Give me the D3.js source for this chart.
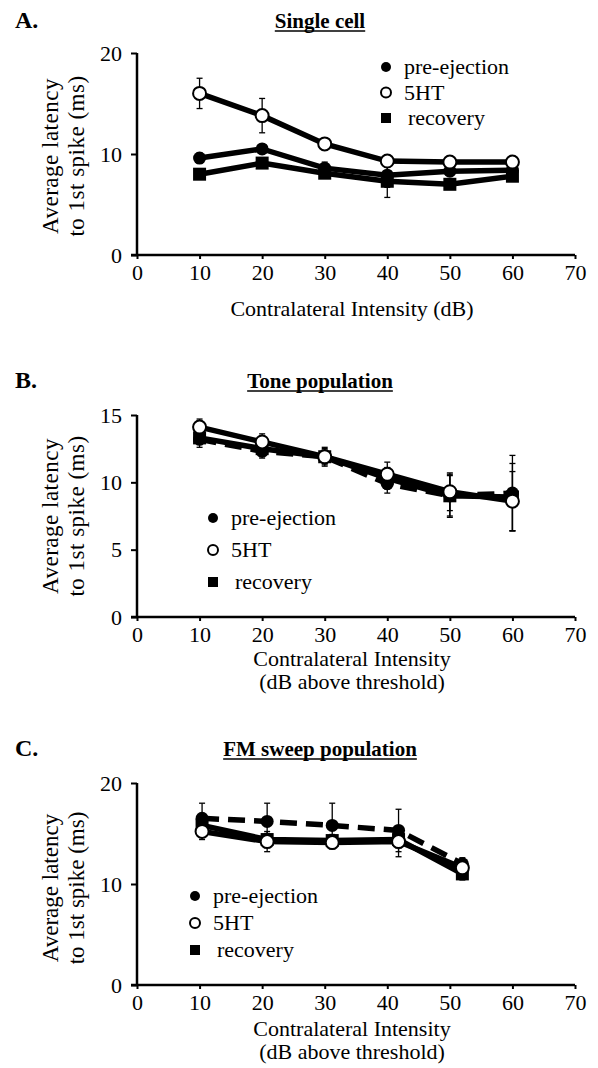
<!DOCTYPE html>
<html>
<head>
<meta charset="utf-8">
<script src="https://cdn.jsdelivr.net/npm/d3@7/dist/d3.min.js"></script>
<style>
  body { margin: 0; background: #fff; }
</style>
</head>
<body>
<script>
// figure size
var w = 598;
var h = 1068;
var serif = "'Liberation Serif', 'DejaVu Serif', serif";

// shared x axis
var xTicks = [0, 10, 20, 30, 40, 50, 60, 70];
var seriesNames = ["pre-ejection", "5HT", "recovery"];

// panel A - single cell
var aX = [10, 20, 30, 40, 50, 60];
var aPre = [9.6, 10.5, 8.6, 7.9, 8.3, 8.4];
var aPreErr = [0.5, 0.4, 0.6, 1.2, 0.3, 0.3];
var a5ht = [16.0, 13.8, 11.0, 9.3, 9.2, 9.2];
var a5htErr = [1.5, 1.7, 0.3, 0.3, 0.3, 0.3];
var aRec = [8.0, 9.1, 8.1, 7.3, 7.0, 7.8];
var aRecErr = [0.3, 0.5, 0.5, 1.6, 0.3, 0.3];
var aYTicks = [0, 10, 20];

// panel B - tone population
var bX = [10, 20, 30, 40, 50, 60];
var bPre = [13.2, 12.3, 11.9, 9.9, 9.0, 9.2];
var bPreErr = [0.6, 0.5, 0.6, 0.7, 1.6, 2.8];
var b5ht = [14.1, 13.0, 11.9, 10.6, 9.3, 8.6];
var b5htErr = [0.6, 0.6, 0.7, 0.9, 1.4, 2.2];
var bRec = [13.3, 12.5, 11.9, 10.3, 9.0, 8.9];
var bRecErr = [0.5, 0.5, 0.5, 0.8, 1.5, 2.5];
var bYTicks = [0, 5, 10, 15];

// panel C - FM sweep population
var cX = [10.4, 20.8, 31.2, 41.8, 52];
var cPre = [16.5, 16.2, 15.8, 15.3, 12.0];
var cPreErr = [1.5, 1.8, 2.2, 2.1, 0.6];
var c5ht = [15.2, 14.2, 14.1, 14.2, 11.6];
var c5htErr = [0.8, 1.0, 0.6, 1.5, 0.7];
var cRec = [15.8, 14.4, 14.3, 14.4, 11.0];
var cRecErr = [0.6, 0.6, 0.6, 0.8, 0.6];
var cYTicks = [0, 10, 20];

var svg = d3.select("body")
  .append("svg")
  .attr("width", w)
  .attr("height", h)
  .style("font-family", serif);

var x_scale = d3.scaleLinear().domain([0, 70]).range([137, 575]);

function zip(xs, ys, es) {
  return xs.map(function(v, i) { return {x: v, y: ys[i], e: es[i]}; });
}

function txt(g, size) {
  return g.append("text")
    .style("font-family", serif)
    .style("font-size", size + "px")
    .attr("fill", "#000");
}

function panel(opt) {
  var y_scale = d3.scaleLinear().domain(opt.yDomain).range([opt.y0, opt.y1]);
  var g = svg.append("g");

  // panel letter + underlined title
  txt(g, 24).attr("x", 15).attr("y", opt.titleY)
    .style("font-weight", "bold")
    .text(opt.letter);
  var t = txt(g, 21).attr("x", 320).attr("y", opt.titleY)
    .attr("text-anchor", "middle")
    .style("font-weight", "bold")
    .text(opt.title);
  var tw = t.node().getComputedTextLength();
  g.append("line")
    .attr("x1", 320 - tw / 2).attr("x2", 320 + tw / 2)
    .attr("y1", opt.titleY + 3).attr("y2", opt.titleY + 3)
    .attr("stroke", "#000").attr("stroke-width", 1.6);

  // axes
  var xAxis = d3.axisBottom(x_scale).tickValues(xTicks).tickSize(4).tickSizeOuter(0).tickPadding(5);
  var yAxis = d3.axisLeft(y_scale).tickValues(opt.yTicks).tickSize(6).tickSizeOuter(0).tickPadding(9);

  var gx = g.append("g").attr("transform", "translate(0," + opt.y0 + ")").call(xAxis);
  var gy = g.append("g").attr("transform", "translate(137,0)").call(yAxis);
  [gx, gy].forEach(function(a) {
    a.attr("font-family", null).attr("font-size", null);
    a.select(".domain").attr("stroke", "#000").attr("stroke-width", 2.5);
    a.selectAll(".tick line").attr("stroke", "#000").attr("stroke-width", 2);
    a.selectAll(".tick text")
      .style("font-family", serif)
      .style("font-size", "22px")
      .attr("fill", "#000");
  });
  gx.select(".domain").attr("d", "M" + (137 - 6) + ",0H575");
  gy.select(".domain").attr("d", "M0," + opt.y0 + "V" + opt.y1);

  // y title
  var yt = txt(g, 23)
    .attr("transform", "translate(0," + opt.yMid + ") rotate(-90)")
    .attr("text-anchor", "middle")
    .style("letter-spacing", opt.ySpacing || "0px");
  yt.append("tspan").attr("x", 0).attr("y", 58).text("Average latency");
  yt.append("tspan").attr("x", 0).attr("y", 84).text("to 1st spike (ms)");

  // x title
  var xt = txt(g, 22).attr("text-anchor", "middle");
  opt.xTitle.forEach(function(s, i) {
    xt.append("tspan").attr("x", 352).attr("y", opt.xTitleY + i * 23).text(s);
  });

  var line = d3.line().x(function(d) { return x_scale(d.x); }).y(function(d) { return y_scale(d.y); });

  opt.series.forEach(function(s) {
    g.append("path")
      .datum(s.data)
      .attr("d", line)
      .attr("fill", "none")
      .attr("stroke", "#000")
      .attr("stroke-width", 5.5)
      .attr("stroke-dasharray", s.dash ? "17,9" : null);
  });

  opt.series.forEach(function(s) {
    var eb = g.append("g");
    s.data.forEach(function(d) {
      var cx = x_scale(d.x);
      eb.append("line").attr("x1", cx).attr("x2", cx)
        .attr("y1", y_scale(d.y - d.e)).attr("y2", y_scale(d.y + d.e))
        .attr("stroke", "#000").attr("stroke-width", 1.3);
      [d.y - d.e, d.y + d.e].forEach(function(v) {
        eb.append("line").attr("x1", cx - 3).attr("x2", cx + 3)
          .attr("y1", y_scale(v)).attr("y2", y_scale(v))
          .attr("stroke", "#000").attr("stroke-width", 1.3);
      });
    });
  });

  opt.series.forEach(function(s) {
    s.data.forEach(function(d) {
      marker(g, s.kind, x_scale(d.x), y_scale(d.y), 6.5);
    });
  });

  // legend
  seriesNames.forEach(function(name, i) {
    var ly = opt.legY + i * opt.legStep;
    marker(g, ["fill", "open", "square"][i], opt.legX, ly, 5);
    txt(g, 22)
      .attr("x", opt.legX + 18 + (i == 2 ? 4 : 0)).attr("y", ly + 7)
      .text(name);
  });
}

function marker(g, kind, cx, cy, r) {
  if (kind == "square") {
    g.append("rect").attr("x", cx - r).attr("y", cy - r)
      .attr("width", 2 * r).attr("height", 2 * r).attr("fill", "#000");
  } else {
    g.append("circle").attr("cx", cx).attr("cy", cy).attr("r", r)
      .attr("fill", kind == "open" ? "#fff" : "#000")
      .attr("stroke", "#000").attr("stroke-width", kind == "open" ? 2 : 0);
  }
}

panel({
  letter: "A.", title: "Single cell", titleY: 28,
  yDomain: [0, 20], y0: 255, y1: 53, yTicks: aYTicks, yMid: 156, ySpacing: "0.5px",
  xTitle: ["Contralateral Intensity (dB)"], xTitleY: 316,
  legX: 386, legY: 67, legStep: 25.5,
  series: [
    {kind: "fill", data: zip(aX, aPre, aPreErr)},
    {kind: "square", data: zip(aX, aRec, aRecErr)},
    {kind: "open", data: zip(aX, a5ht, a5htErr)}
  ]
});

panel({
  letter: "B.", title: "Tone population", titleY: 388,
  yDomain: [0, 15], y0: 617, y1: 415, yTicks: bYTicks, yMid: 516, ySpacing: "0.5px",
  xTitle: ["Contralateral Intensity", "(dB above threshold)"], xTitleY: 666,
  legX: 213, legY: 518, legStep: 32,
  series: [
    {kind: "square", data: zip(bX, bRec, bRecErr)},
    {kind: "fill", dash: true, data: zip(bX, bPre, bPreErr)},
    {kind: "open", data: zip(bX, b5ht, b5htErr)}
  ]
});

panel({
  letter: "C.", title: "FM sweep population", titleY: 756,
  yDomain: [0, 20], y0: 985, y1: 783, yTicks: cYTicks, yMid: 888,
  xTitle: ["Contralateral Intensity", "(dB above threshold)"], xTitleY: 1036,
  legX: 195, legY: 896, legStep: 27,
  series: [
    {kind: "square", data: zip(cX, cRec, cRecErr)},
    {kind: "fill", dash: true, data: zip(cX, cPre, cPreErr)},
    {kind: "open", data: zip(cX, c5ht, c5htErr)}
  ]
});
</script>
</body>
</html>
